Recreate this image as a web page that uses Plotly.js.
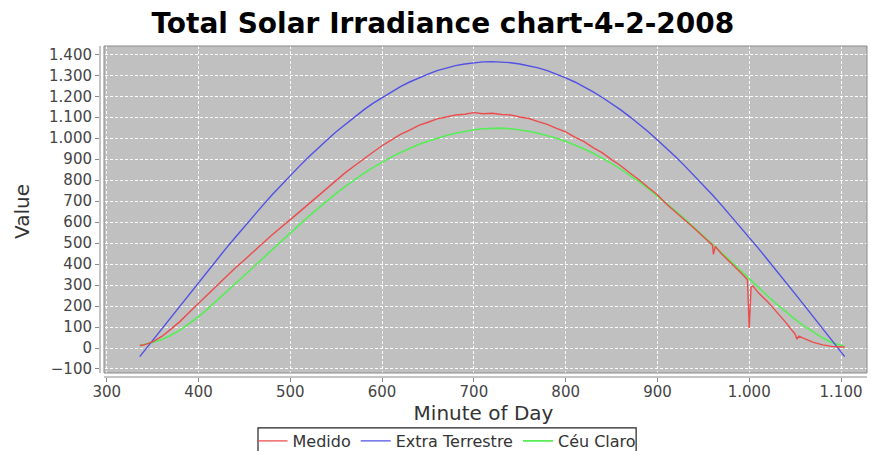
<!DOCTYPE html>
<html>
<head>
<meta charset="utf-8">
<script src="https://cdn.plot.ly/plotly-3.0.1.min.js"></script>
<style>
  html, body { margin: 0; padding: 0; background: #fff; }
  #chart { width: 871px; height: 451px; }
</style>
</head>
<body>
<div id="chart"></div>
<script>
// ---- data ----
const minutes = [336, 340, 350, 360, 370, 380, 390, 400, 410, 420, 430, 440, 450, 460, 470, 480, 490,
  500, 510, 520, 530, 540, 550, 560, 570, 580, 590, 600, 610, 620, 630, 640, 650, 660, 670, 680, 690,
  700, 710, 720, 730, 740, 750, 760, 770, 780, 790, 800, 810, 820, 830, 840, 850, 860, 870, 880, 890,
  900, 910, 920, 930, 940, 950, 960, 970, 980, 990, 1000, 1010, 1020, 1030, 1040, 1050, 1060, 1070,
  1080, 1090, 1100, 1104];

const extraTerrestre = [-41, -19, 36, 92, 148, 203, 258, 313, 368, 421, 475, 527, 579, 630, 680, 729, 776,
  822, 867, 910, 952, 992, 1031, 1067, 1102, 1135, 1166, 1194, 1221, 1246, 1268, 1288, 1306, 1322, 1335, 1346, 1354,
  1360, 1364, 1365, 1364, 1360, 1354, 1346, 1335, 1322, 1306, 1288, 1268, 1246, 1221, 1194, 1166, 1135, 1102, 1067, 1031,
  992, 952, 910, 867, 822, 776, 729, 680, 630, 579, 527, 475, 421, 368, 313, 258, 203, 148,
  92, 36, -19, -41];

const ceuClaro = [13, 16, 26, 41, 61, 85, 115, 149, 187, 226, 265, 305, 345, 386, 427, 468, 508,
  548, 588, 627, 665, 702, 737, 770, 802, 832, 860, 886, 910, 932, 952, 970, 986, 1000, 1013, 1024, 1033,
  1040, 1045, 1048, 1048, 1045, 1040, 1033, 1024, 1013, 1000, 985, 968, 949, 928, 905, 880, 853, 824, 793, 760,
  725, 689, 652, 614, 575, 535, 495, 454, 413, 371, 329, 288, 248, 209, 172, 137, 104, 74,
  48, 26, 11, 7];

const medidoMinutes = [336, 340, 350, 360, 370, 380, 390, 400, 410, 420, 430, 440, 450, 460, 470, 480, 490,
  500, 510, 520, 530, 540, 550, 560, 570, 580, 590, 600, 610, 620, 630, 640, 650, 660, 670, 680, 690,
  700, 710, 720, 730, 740, 750, 760, 770, 780, 790, 800, 810, 820, 830, 840, 850, 860, 870, 880, 890,
  900, 910, 920, 930, 940, 950, 958, 960, 961, 962, 963, 970, 980, 990, 994, 998, 1000, 1002, 1004,
  1010, 1020, 1030, 1040, 1047, 1050, 1052, 1054, 1060, 1070, 1080, 1090, 1100, 1104];

const medido = [12, 14, 29, 55, 90, 127, 170, 213, 253, 297, 338, 381, 420, 462, 499, 539, 574,
  612, 649, 687, 724, 762, 799, 836, 869, 903, 933, 964, 990, 1018, 1039, 1061, 1076, 1092, 1101, 1111, 1114,
  1122, 1117, 1119, 1113, 1111, 1101, 1094, 1079, 1066, 1047, 1030, 1005, 984, 955, 930, 898, 869, 834, 802, 765,
  731, 685, 648, 610, 571, 530, 498, 490, 446, 466, 484, 448, 407, 362, 344, 325, 95, 290, 296,
  263, 221, 172, 121, 82, 66, 42, 57, 45, 27, 15, 8, 5, 5];

const seriesNames = ['Medido', 'Extra Terrestre', 'Céu Claro'];
const xTicks = [300, 400, 500, 600, 700, 800, 900, 1000, 1100];
const yTicks = [-100, 0, 100, 200, 300, 400, 500, 600, 700, 800, 900, 1000, 1100, 1200, 1300, 1400];

// ---- traces (drawn green, blue, red so red sits on top) ----
const traces = [
  { x: minutes, y: ceuClaro, name: seriesNames[2], type: 'scatter', mode: 'lines',
    line: { color: '#55ee55', width: 1.6 } },
  { x: minutes, y: extraTerrestre, name: seriesNames[1], type: 'scatter', mode: 'lines',
    line: { color: '#5050e6', width: 1.4 } },
  { x: medidoMinutes, y: medido, name: seriesNames[0], type: 'scatter', mode: 'lines',
    line: { color: '#ec4c4c', width: 1.4 } }
];

const tickFont = { family: 'DejaVu Sans', size: 15, color: '#444' };

const layout = {
  width: 871, height: 451,
  margin: { l: 100, r: 4, t: 46, b: 74, pad: 0, autoexpand: false },
  paper_bgcolor: '#ffffff',
  plot_bgcolor: '#ffffff',
  separators: ',.',
  font: { family: 'DejaVu Sans', size: 15, color: '#444' },
  showlegend: true,
  title: {
    text: 'Total Solar Irradiance chart-4-2-2008',
    font: { family: 'DejaVu Sans', size: 28, color: '#000', weight: 'bold' },
    xref: 'paper', x: 0.447, xanchor: 'center',
    yref: 'container', y: 0.949, yanchor: 'middle'
  },
  xaxis: {
    range: [292.7, 1128.3],
    tickmode: 'array', tickvals: xTicks, tickformat: ',d',
    ticks: 'outside', ticklen: 4, tickcolor: '#888', tickwidth: 1,
    ticklabelstandoff: -3,
    tickfont: tickFont,
    showgrid: true, gridcolor: '#ffffff', gridwidth: 1, griddash: '3px,2px',
    zeroline: false, showline: false, automargin: false,
    title: { text: 'Minute of Day', font: { family: 'DejaVu Sans', size: 20, color: '#333' }, standoff: 0 }
  },
  yaxis: {
    range: [-138.2, 1439.6],
    tickmode: 'array', tickvals: yTicks, tickformat: ',d',
    ticks: 'outside', ticklen: 4, tickcolor: '#888', tickwidth: 1,
    tickfont: tickFont,
    showgrid: true, gridcolor: '#ffffff', gridwidth: 1, griddash: '3px,2px',
    zeroline: false, showline: false, automargin: false,
    title: { text: 'Value', font: { family: 'DejaVu Sans', size: 20, color: '#333' }, standoff: 14 }
  },
  shapes: [
    // plot background
    { type: 'rect', xref: 'paper', yref: 'paper', x0: 0.0052, x1: 1, y0: 0.0121, y1: 1,
      fillcolor: '#c0c0c0', line: { width: 0 }, layer: 'below' },
    // plot outline
    { type: 'rect', xref: 'paper', yref: 'paper', x0: 0.0052, x1: 1, y0: 0.0121, y1: 1,
      fillcolor: 'rgba(0,0,0,0)', line: { color: '#8a8a8a', width: 1 }, layer: 'above' },
    // axis lines (offset from the plot like the original)
    { type: 'line', xref: 'paper', yref: 'paper', x0: 0.0052, x1: 1, y0: 0, y1: 0,
      line: { color: '#8a8a8a', width: 1 }, layer: 'above' },
    { type: 'line', xref: 'paper', yref: 'paper', x0: 0, x1: 0, y0: 0.0121, y1: 1,
      line: { color: '#8a8a8a', width: 1 }, layer: 'above' },
    // legend frame (runs past the bottom edge like the original)
    { type: 'rect', xref: 'paper', yref: 'paper', x0: 0.206, x1: 0.699, y0: -0.154, y1: -0.245,
      fillcolor: 'rgba(0,0,0,0)', line: { color: '#222', width: 1.2 }, layer: 'above' }
  ],
  legend: {
    orientation: 'h', traceorder: 'reversed',
    x: 0.4524, xanchor: 'center', xref: 'paper',
    y: -0.142, yanchor: 'top', yref: 'paper',
    bgcolor: 'rgba(0,0,0,0)', borderwidth: 0,
    font: { family: 'DejaVu Sans', size: 16, color: '#333' },
    itemwidth: 30
  }
};

Plotly.newPlot('chart', traces, layout, { staticPlot: true, displayModeBar: false });
</script>
</body>
</html>
